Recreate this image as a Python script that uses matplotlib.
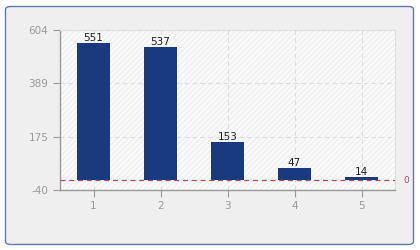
import numpy as np
import matplotlib.pyplot as plt
from matplotlib.patches import FancyBboxPatch, Rectangle

plt.rcParams['axes.unicode_minus'] = False

# Data
categories = ['1', '2', '3', '4', '5']
values = [551, 537, 153, 47, 14]
y_ticks = [-40, 175, 389, 604]

W, H = 420, 250
fig = plt.figure(figsize=(W / 100, H / 100), dpi=100)
fig.patch.set_facecolor('white')

# outer rounded panel
panel = FancyBboxPatch((5.5 / W, 5.5 / H), 408 / W, 238 / H,
                       boxstyle='round,pad=0,rounding_size=0.012',
                       transform=fig.transFigure, facecolor='#efefef',
                       edgecolor='#6478b0', linewidth=1.0, zorder=-10)
fig.patches.append(panel)

ax = fig.add_axes([60 / W, 1 - 190 / H, 335 / W, 160 / H])
ax.set_facecolor('#fafafa')
ax.add_patch(Rectangle((0, 0), 1, 1, transform=ax.transAxes, facecolor='none',
                       edgecolor='#efefef', hatch='//////', linewidth=0, zorder=0))

x = np.arange(1, len(values) + 1)
ax.bar(x, values, width=0.5, color='#1a3a80', zorder=3)
for xi, v in zip(x, values):
    ax.text(xi, v, str(v), ha='center', va='bottom', fontsize=7.5, color='#222222', zorder=4)

ax.axhline(0, color='#b04a58', linestyle=(0, (4, 3)), linewidth=0.9, zorder=4)
ax.text(5.62, 0, '0', ha='left', va='center', fontsize=6.5, color='#b04a58')

ax.set_xlim(0.5, 5.5)
ax.set_ylim(y_ticks[0], y_ticks[-1])
ax.set_xticks(x)
ax.set_xticklabels(categories)
ax.set_yticks(y_ticks)
ax.tick_params(axis='both', colors='#999999', labelcolor='#999999', labelsize=7.5,
               length=5, width=0.8)
ax.tick_params(axis='x', pad=3)
ax.grid(True, color='#dddddd', linestyle=(0, (4, 3)), linewidth=0.8, zorder=1)

for side in ['left', 'bottom']:
    ax.spines[side].set_color('#999999')
    ax.spines[side].set_linewidth(1.0)
for side in ['top', 'right']:
    ax.spines[side].set_color('#dddddd')
    ax.spines[side].set_linewidth(0.8)

fig.savefig('out.png', dpi=100)
